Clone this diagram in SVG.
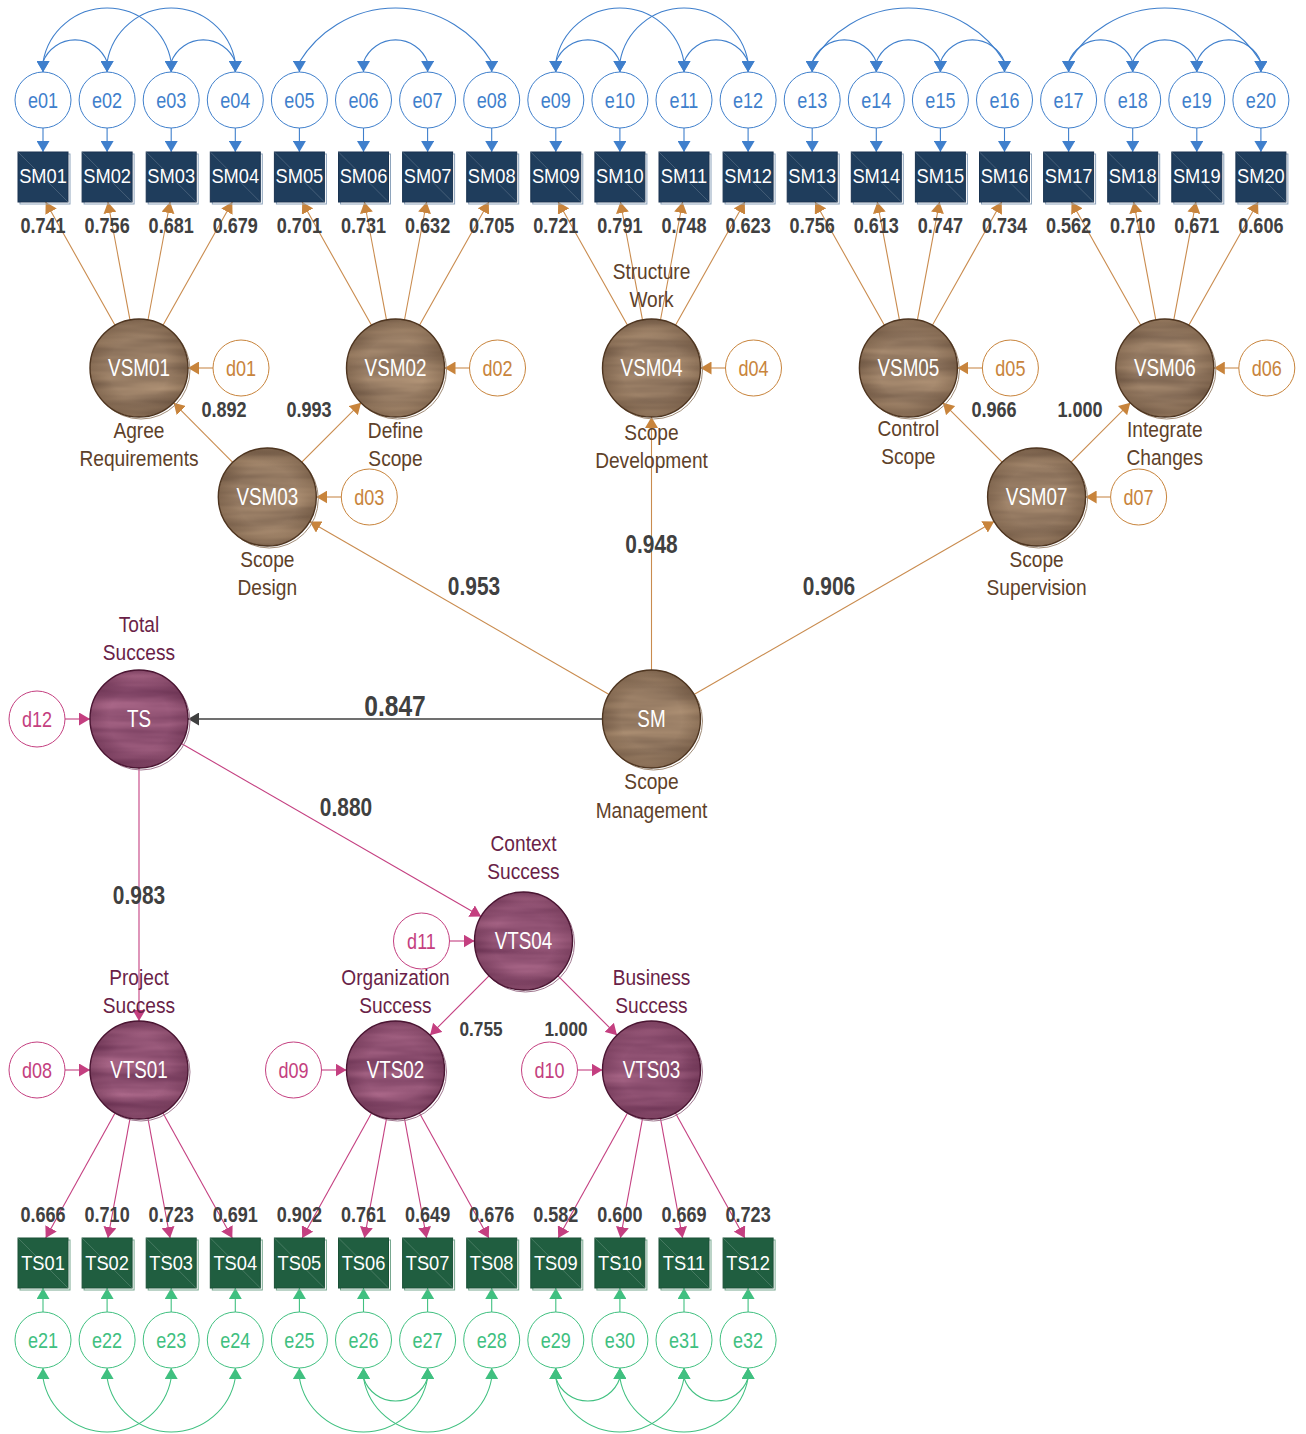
<svg xmlns="http://www.w3.org/2000/svg" width="1306" height="1434" viewBox="0 0 1306 1434">
<style>
text{font-family:"Liberation Sans",Arial,sans-serif;text-anchor:middle;transform-box:fill-box;transform-origin:50% 50%;transform:scaleX(0.82)}
.bt{fill:#fff;font-size:21px;transform:scaleX(0.87)}
.nt{fill:#fff;font-size:23px}
.lbB{fill:#5e4129;font-size:22px;transform:scaleX(0.87)}
.lbP{fill:#6a1f48;font-size:22px;transform:scaleX(0.87)}
.val{fill:#404040;font-size:22px;font-weight:bold}
.valL{fill:#404040;font-size:25.5px;font-weight:bold}
.eB{fill:#fff;stroke:#3f7fcc;stroke-width:1}
.eBt{fill:#3f7fcc;font-size:22px}
.eG{fill:#fff;stroke:#40c080;stroke-width:1}
.eGt{fill:#40c080;font-size:22px}
.dB{fill:#fff;stroke:#c8843c;stroke-width:1}
.dBt{fill:#c8843c;font-size:22px}
.dP{fill:#fff;stroke:#c43f80;stroke-width:1}
.dPt{fill:#c43f80;font-size:22px}
.bxN{fill:#1f3d5c;stroke:#1a3350;stroke-width:1}
.shN{fill:none;stroke:#8ea4bc;stroke-width:1}
.bxG{fill:#205e40;stroke:#1a5036;stroke-width:1}
.shG{fill:none;stroke:#78a890;stroke-width:1}
.dg{stroke:#ffffff;stroke-opacity:0.22;stroke-width:0.8}
.rimB{fill:none;stroke:#a08c78;stroke-width:1}
.rimP{fill:none;stroke:#a07890;stroke-width:1}
.olB{fill:url(#vigB);stroke:#4e3520;stroke-width:1.4}
.olP{fill:url(#vigP);stroke:#4a1532;stroke-width:1.4}
.cB{fill:none;stroke:#3f7fcc;stroke-width:1.1}
.cBr{fill:none;stroke:#c98b4e;stroke-width:1.1}
.cP{fill:none;stroke:#c43f80;stroke-width:1.1}
.cG{fill:none;stroke:#40c080;stroke-width:1.1}
.cK{fill:none;stroke:#404040;stroke-width:1.3}
</style>
<defs>
<marker id="mB" viewBox="0 0 11 13" refX="11" refY="6.5" markerWidth="11" markerHeight="13" markerUnits="userSpaceOnUse" orient="auto"><path d="M0,0L11,6.5L0,13z" fill="#3f7fcc"/></marker>
<marker id="mBd" viewBox="0 0 11 13" refX="11" refY="6.5" markerWidth="11" markerHeight="13" markerUnits="userSpaceOnUse" orient="90"><path d="M0,0L11,6.5L0,13z" fill="#3f7fcc"/></marker>
<marker id="mBr" viewBox="0 0 11 13" refX="11" refY="6.5" markerWidth="11" markerHeight="13" markerUnits="userSpaceOnUse" orient="auto"><path d="M0,0L11,6.5L0,13z" fill="#c8843c"/></marker>
<marker id="mP" viewBox="0 0 11 13" refX="11" refY="6.5" markerWidth="11" markerHeight="13" markerUnits="userSpaceOnUse" orient="auto"><path d="M0,0L11,6.5L0,13z" fill="#c43f80"/></marker>
<marker id="mG" viewBox="0 0 11 13" refX="11" refY="6.5" markerWidth="11" markerHeight="13" markerUnits="userSpaceOnUse" orient="auto"><path d="M0,0L11,6.5L0,13z" fill="#40c080"/></marker>
<marker id="mGu" viewBox="0 0 11 13" refX="11" refY="6.5" markerWidth="11" markerHeight="13" markerUnits="userSpaceOnUse" orient="270"><path d="M0,0L11,6.5L0,13z" fill="#40c080"/></marker>
<marker id="mK" viewBox="0 0 11 13" refX="11" refY="6.5" markerWidth="11" markerHeight="13" markerUnits="userSpaceOnUse" orient="auto"><path d="M0,0L11,6.5L0,13z" fill="#404040"/></marker>
<!-- streaky wood-like fills for the latent variables -->
<filter id="woodB" x="0" y="0" width="1" height="1" color-interpolation-filters="sRGB">
<feTurbulence type="fractalNoise" baseFrequency="0.008 0.07" numOctaves="3" seed="7"/>
<feColorMatrix type="matrix" values="0.28 0 0 0 0.45  0.25 0 0 0 0.36  0.2 0 0 0 0.29  0 0 0 0 1"/>
<feComposite in2="SourceAlpha" operator="in"/>
</filter>
<filter id="woodP" x="0" y="0" width="1" height="1" color-interpolation-filters="sRGB">
<feTurbulence type="fractalNoise" baseFrequency="0.008 0.07" numOctaves="3" seed="11"/>
<feColorMatrix type="matrix" values="0.3 0 0 0 0.42  0.25 0 0 0 0.2  0.25 0 0 0 0.33  0 0 0 0 1"/>
<feComposite in2="SourceAlpha" operator="in"/>
</filter>
<radialGradient id="vigB"><stop offset="0.62" stop-color="#3c2410" stop-opacity="0"/><stop offset="1" stop-color="#3c2410" stop-opacity="0.22"/></radialGradient>
<radialGradient id="vigP"><stop offset="0.62" stop-color="#3a0a24" stop-opacity="0"/><stop offset="1" stop-color="#3a0a24" stop-opacity="0.22"/></radialGradient>
</defs>

<!-- connectors -->
<g id="connectors">
<!-- error covariances, top -->
<g class="cB" marker-start="url(#mBd)" marker-end="url(#mBd)">
<path d="M43,72L43,62A65.05,65.05 0 0 1 171.2,62L171.2,72"/>
<path d="M107.1,72L107.1,62A65.05,65.05 0 0 1 235.3,62L235.3,72"/>
<path d="M43,72L43,62A34.3,34.3 0 0 1 107.1,62L107.1,72"/>
<path d="M171.2,72L171.2,62A34.3,34.3 0 0 1 235.3,62L235.3,72"/>
<path d="M299.4,72L299.4,62A112.6,112.6 0 0 1 491.7,62L491.7,72"/>
<path d="M363.5,72L363.5,62A34.3,34.3 0 0 1 427.6,62L427.6,72"/>
<path d="M555.8,72L555.8,62A65.05,65.05 0 0 1 684,62L684,72"/>
<path d="M619.9,72L619.9,62A65.05,65.05 0 0 1 748.1,62L748.1,72"/>
<path d="M555.8,72L555.8,62A34.3,34.3 0 0 1 619.9,62L619.9,72"/>
<path d="M684,72L684,62A34.3,34.3 0 0 1 748.1,62L748.1,72"/>
<path d="M812.2,72L812.2,62A112.6,112.6 0 0 1 1004.5,62L1004.5,72"/>
<path d="M812.2,72L812.2,62A34.3,34.3 0 0 1 876.3,62L876.3,72"/>
<path d="M876.3,72L876.3,62A34.3,34.3 0 0 1 940.4,62L940.4,72"/>
<path d="M940.4,72L940.4,62A34.3,34.3 0 0 1 1004.5,62L1004.5,72"/>
<path d="M1068.6,72L1068.6,62A112.6,112.6 0 0 1 1260.9,62L1260.9,72"/>
<path d="M1068.6,72L1068.6,62A34.3,34.3 0 0 1 1132.7,62L1132.7,72"/>
<path d="M1132.7,72L1132.7,62A34.3,34.3 0 0 1 1196.8,62L1196.8,72"/>
<path d="M1196.8,72L1196.8,62A34.3,34.3 0 0 1 1260.9,62L1260.9,72"/>
</g>
<!-- error to indicator, top -->
<g class="cB" marker-end="url(#mB)">
<path d="M43,128V152"/><path d="M107.1,128V152"/><path d="M171.2,128V152"/><path d="M235.3,128V152"/>
<path d="M299.4,128V152"/><path d="M363.5,128V152"/><path d="M427.6,128V152"/><path d="M491.7,128V152"/>
<path d="M555.8,128V152"/><path d="M619.9,128V152"/><path d="M684,128V152"/><path d="M748.1,128V152"/>
<path d="M812.2,128V152"/><path d="M876.3,128V152"/><path d="M940.4,128V152"/><path d="M1004.5,128V152"/>
<path d="M1068.6,128V152"/><path d="M1132.7,128V152"/><path d="M1196.8,128V152"/><path d="M1260.9,128V152"/>
</g>
<!-- loadings, scope management -->
<g class="cBr" marker-end="url(#mBr)">
<path d="M115,325.3L45.7,202"/><path d="M130,319.8L107.9,202"/><path d="M148,319.8L170.1,202"/><path d="M163,325.3L232.3,202"/>
<path d="M371.5,325.3L302.2,202"/><path d="M386.5,319.8L364.4,202"/><path d="M404.5,319.8L426.6,202"/><path d="M419.5,325.3L488.8,202"/>
<path d="M627.5,325.3L558.2,202"/><path d="M642.5,319.8L620.4,202"/><path d="M660.5,319.8L682.6,202"/><path d="M675.5,325.3L744.8,202"/>
<path d="M884.4,325.3L815.1,202"/><path d="M899.4,319.8L877.3,202"/><path d="M917.4,319.8L939.5,202"/><path d="M932.4,325.3L1001.7,202"/>
<path d="M1140.8,325.3L1071.5,202"/><path d="M1155.8,319.8L1133.7,202"/><path d="M1173.8,319.8L1195.9,202"/><path d="M1188.8,325.3L1258.1,202"/>
<!-- structural paths -->
<path d="M232.7,462.3L173.6,402.8"/>
<path d="M301.8,462.2L361,402.8"/>
<path d="M1002.1,462.2L942.9,402.8"/>
<path d="M1071.1,462.2L1130.3,402.8"/>
<path d="M609.1,694.5L309.7,521.5"/>
<path d="M694,694.5L994.1,521.5"/>
<path d="M651.5,670V417"/>
<!-- disturbances -->
<path d="M213,368H188"/><path d="M469.5,368H444.5"/><path d="M725.5,368H700.5"/><path d="M982.4,368H957.4"/><path d="M1238.8,368H1213.8"/>
<path d="M341.3,497H316.3"/><path d="M1110.6,497H1085.6"/>
</g>
<path class="cK" d="M602.5,719H188" marker-end="url(#mK)"/>
<g class="cP" marker-end="url(#mP)">
<path d="M139,768V1021"/>
<path d="M181.4,743.5L481.1,916.5"/>
<path d="M489,975.8L430,1035.2"/>
<path d="M558,975.8L617,1035.2"/>
<path d="M65,719H90"/><path d="M449.5,941H474.5"/><path d="M65,1070H90"/><path d="M321.5,1070H346.5"/><path d="M577.5,1070H602.5"/>
<path d="M115.2,1112.8L45.7,1238"/><path d="M130.1,1118.2L107.9,1238"/><path d="M147.9,1118.2L170.1,1238"/><path d="M162.8,1112.8L232.3,1238"/>
<path d="M371.7,1112.8L302.2,1238"/><path d="M386.6,1118.2L364.4,1238"/><path d="M404.4,1118.2L426.6,1238"/><path d="M419.3,1112.8L488.8,1238"/>
<path d="M627.7,1112.8L558.2,1238"/><path d="M642.6,1118.2L620.4,1238"/><path d="M660.4,1118.2L682.6,1238"/><path d="M675.3,1112.8L744.8,1238"/>
</g>
<!-- error to indicator, bottom -->
<g class="cG" marker-end="url(#mG)">
<path d="M43,1312V1288"/><path d="M107.1,1312V1288"/><path d="M171.2,1312V1288"/><path d="M235.3,1312V1288"/>
<path d="M299.4,1312V1288"/><path d="M363.5,1312V1288"/><path d="M427.6,1312V1288"/><path d="M491.7,1312V1288"/>
<path d="M555.8,1312V1288"/><path d="M619.9,1312V1288"/><path d="M684,1312V1288"/><path d="M748.1,1312V1288"/>
</g>
<!-- error covariances, bottom -->
<g class="cG" marker-start="url(#mGu)" marker-end="url(#mGu)">
<path d="M43,1368L43,1378A65.05,65.05 0 0 0 171.2,1378L171.2,1368"/>
<path d="M107.1,1368L107.1,1378A65.05,65.05 0 0 0 235.3,1378L235.3,1368"/>
<path d="M299.4,1368L299.4,1378A65.05,65.05 0 0 0 427.6,1378L427.6,1368"/>
<path d="M363.5,1368L363.5,1378A65.05,65.05 0 0 0 491.7,1378L491.7,1368"/>
<path d="M363.5,1368L363.5,1378A33.8,33.8 0 0 0 427.6,1378L427.6,1368"/>
<path d="M555.8,1368L555.8,1378A33.8,33.8 0 0 0 619.9,1378L619.9,1368"/>
<path d="M555.8,1368L555.8,1378A65.05,65.05 0 0 0 684,1378L684,1368"/>
<path d="M619.9,1368L619.9,1378A65.05,65.05 0 0 0 748.1,1378L748.1,1368"/>
<path d="M684,1368L684,1378A33.8,33.8 0 0 0 748.1,1378L748.1,1368"/>
</g>
</g>

<!-- path coefficients -->
<g id="coefficients">
<text class="val" x="43" y="233">0.741</text><text class="val" x="107.1" y="233">0.756</text><text class="val" x="171.2" y="233">0.681</text><text class="val" x="235.3" y="233">0.679</text>
<text class="val" x="299.4" y="233">0.701</text><text class="val" x="363.5" y="233">0.731</text><text class="val" x="427.6" y="233">0.632</text><text class="val" x="491.7" y="233">0.705</text>
<text class="val" x="555.8" y="233">0.721</text><text class="val" x="619.9" y="233">0.791</text><text class="val" x="684" y="233">0.748</text><text class="val" x="748.1" y="233">0.623</text>
<text class="val" x="812.2" y="233">0.756</text><text class="val" x="876.3" y="233">0.613</text><text class="val" x="940.4" y="233">0.747</text><text class="val" x="1004.5" y="233">0.734</text>
<text class="val" x="1068.6" y="233">0.562</text><text class="val" x="1132.7" y="233">0.710</text><text class="val" x="1196.8" y="233">0.671</text><text class="val" x="1260.9" y="233">0.606</text>
<text class="val" x="224" y="417.5">0.892</text><text class="val" x="309" y="417.5">0.993</text>
<text class="val" x="994" y="417.5">0.966</text><text class="val" x="1080" y="417.5">1.000</text>
<text class="valL" x="651.5" y="553">0.948</text>
<text class="valL" x="474" y="595">0.953</text>
<text class="valL" x="829" y="595">0.906</text>
<text class="valL" x="395" y="716.5" style="font-size:30px">0.847</text>
<text class="valL" x="346" y="816.5">0.880</text>
<text class="valL" x="139" y="904">0.983</text>
<text class="val" x="481" y="1036.5" style="font-size:21px">0.755</text>
<text class="val" x="566" y="1036.5" style="font-size:21px">1.000</text>
<text class="val" x="43" y="1222">0.666</text><text class="val" x="107.1" y="1222">0.710</text><text class="val" x="171.2" y="1222">0.723</text><text class="val" x="235.3" y="1222">0.691</text>
<text class="val" x="299.4" y="1222">0.902</text><text class="val" x="363.5" y="1222">0.761</text><text class="val" x="427.6" y="1222">0.649</text><text class="val" x="491.7" y="1222">0.676</text>
<text class="val" x="555.8" y="1222">0.582</text><text class="val" x="619.9" y="1222">0.600</text><text class="val" x="684" y="1222">0.669</text><text class="val" x="748.1" y="1222">0.723</text>
</g>

<!-- measurement errors, top -->
<g id="e01"><circle class="eB" cx="43" cy="100" r="28"/><text class="eBt" x="43" y="108">e01</text></g>
<g id="e02"><circle class="eB" cx="107.1" cy="100" r="28"/><text class="eBt" x="107.1" y="108">e02</text></g>
<g id="e03"><circle class="eB" cx="171.2" cy="100" r="28"/><text class="eBt" x="171.2" y="108">e03</text></g>
<g id="e04"><circle class="eB" cx="235.3" cy="100" r="28"/><text class="eBt" x="235.3" y="108">e04</text></g>
<g id="e05"><circle class="eB" cx="299.4" cy="100" r="28"/><text class="eBt" x="299.4" y="108">e05</text></g>
<g id="e06"><circle class="eB" cx="363.5" cy="100" r="28"/><text class="eBt" x="363.5" y="108">e06</text></g>
<g id="e07"><circle class="eB" cx="427.6" cy="100" r="28"/><text class="eBt" x="427.6" y="108">e07</text></g>
<g id="e08"><circle class="eB" cx="491.7" cy="100" r="28"/><text class="eBt" x="491.7" y="108">e08</text></g>
<g id="e09"><circle class="eB" cx="555.8" cy="100" r="28"/><text class="eBt" x="555.8" y="108">e09</text></g>
<g id="e10"><circle class="eB" cx="619.9" cy="100" r="28"/><text class="eBt" x="619.9" y="108">e10</text></g>
<g id="e11"><circle class="eB" cx="684" cy="100" r="28"/><text class="eBt" x="684" y="108">e11</text></g>
<g id="e12"><circle class="eB" cx="748.1" cy="100" r="28"/><text class="eBt" x="748.1" y="108">e12</text></g>
<g id="e13"><circle class="eB" cx="812.2" cy="100" r="28"/><text class="eBt" x="812.2" y="108">e13</text></g>
<g id="e14"><circle class="eB" cx="876.3" cy="100" r="28"/><text class="eBt" x="876.3" y="108">e14</text></g>
<g id="e15"><circle class="eB" cx="940.4" cy="100" r="28"/><text class="eBt" x="940.4" y="108">e15</text></g>
<g id="e16"><circle class="eB" cx="1004.5" cy="100" r="28"/><text class="eBt" x="1004.5" y="108">e16</text></g>
<g id="e17"><circle class="eB" cx="1068.6" cy="100" r="28"/><text class="eBt" x="1068.6" y="108">e17</text></g>
<g id="e18"><circle class="eB" cx="1132.7" cy="100" r="28"/><text class="eBt" x="1132.7" y="108">e18</text></g>
<g id="e19"><circle class="eB" cx="1196.8" cy="100" r="28"/><text class="eBt" x="1196.8" y="108">e19</text></g>
<g id="e20"><circle class="eB" cx="1260.9" cy="100" r="28"/><text class="eBt" x="1260.9" y="108">e20</text></g>

<!-- scope management indicators -->
<g id="SM01"><rect class="shN" x="20" y="154" width="50" height="50"/><rect class="bxN" x="18" y="152" width="50" height="50"/><line class="dg" x1="18" y1="152" x2="68" y2="202"/><text class="bt" x="43" y="183.5">SM01</text></g>
<g id="SM02"><rect class="shN" x="84.1" y="154" width="50" height="50"/><rect class="bxN" x="82.1" y="152" width="50" height="50"/><line class="dg" x1="82.1" y1="152" x2="132.1" y2="202"/><text class="bt" x="107.1" y="183.5">SM02</text></g>
<g id="SM03"><rect class="shN" x="148.2" y="154" width="50" height="50"/><rect class="bxN" x="146.2" y="152" width="50" height="50"/><line class="dg" x1="146.2" y1="152" x2="196.2" y2="202"/><text class="bt" x="171.2" y="183.5">SM03</text></g>
<g id="SM04"><rect class="shN" x="212.3" y="154" width="50" height="50"/><rect class="bxN" x="210.3" y="152" width="50" height="50"/><line class="dg" x1="210.3" y1="152" x2="260.3" y2="202"/><text class="bt" x="235.3" y="183.5">SM04</text></g>
<g id="SM05"><rect class="shN" x="276.4" y="154" width="50" height="50"/><rect class="bxN" x="274.4" y="152" width="50" height="50"/><line class="dg" x1="274.4" y1="152" x2="324.4" y2="202"/><text class="bt" x="299.4" y="183.5">SM05</text></g>
<g id="SM06"><rect class="shN" x="340.5" y="154" width="50" height="50"/><rect class="bxN" x="338.5" y="152" width="50" height="50"/><line class="dg" x1="338.5" y1="152" x2="388.5" y2="202"/><text class="bt" x="363.5" y="183.5">SM06</text></g>
<g id="SM07"><rect class="shN" x="404.6" y="154" width="50" height="50"/><rect class="bxN" x="402.6" y="152" width="50" height="50"/><line class="dg" x1="402.6" y1="152" x2="452.6" y2="202"/><text class="bt" x="427.6" y="183.5">SM07</text></g>
<g id="SM08"><rect class="shN" x="468.7" y="154" width="50" height="50"/><rect class="bxN" x="466.7" y="152" width="50" height="50"/><line class="dg" x1="466.7" y1="152" x2="516.7" y2="202"/><text class="bt" x="491.7" y="183.5">SM08</text></g>
<g id="SM09"><rect class="shN" x="532.8" y="154" width="50" height="50"/><rect class="bxN" x="530.8" y="152" width="50" height="50"/><line class="dg" x1="530.8" y1="152" x2="580.8" y2="202"/><text class="bt" x="555.8" y="183.5">SM09</text></g>
<g id="SM10"><rect class="shN" x="596.9" y="154" width="50" height="50"/><rect class="bxN" x="594.9" y="152" width="50" height="50"/><line class="dg" x1="594.9" y1="152" x2="644.9" y2="202"/><text class="bt" x="619.9" y="183.5">SM10</text></g>
<g id="SM11"><rect class="shN" x="661" y="154" width="50" height="50"/><rect class="bxN" x="659" y="152" width="50" height="50"/><line class="dg" x1="659" y1="152" x2="709" y2="202"/><text class="bt" x="684" y="183.5">SM11</text></g>
<g id="SM12"><rect class="shN" x="725.1" y="154" width="50" height="50"/><rect class="bxN" x="723.1" y="152" width="50" height="50"/><line class="dg" x1="723.1" y1="152" x2="773.1" y2="202"/><text class="bt" x="748.1" y="183.5">SM12</text></g>
<g id="SM13"><rect class="shN" x="789.2" y="154" width="50" height="50"/><rect class="bxN" x="787.2" y="152" width="50" height="50"/><line class="dg" x1="787.2" y1="152" x2="837.2" y2="202"/><text class="bt" x="812.2" y="183.5">SM13</text></g>
<g id="SM14"><rect class="shN" x="853.3" y="154" width="50" height="50"/><rect class="bxN" x="851.3" y="152" width="50" height="50"/><line class="dg" x1="851.3" y1="152" x2="901.3" y2="202"/><text class="bt" x="876.3" y="183.5">SM14</text></g>
<g id="SM15"><rect class="shN" x="917.4" y="154" width="50" height="50"/><rect class="bxN" x="915.4" y="152" width="50" height="50"/><line class="dg" x1="915.4" y1="152" x2="965.4" y2="202"/><text class="bt" x="940.4" y="183.5">SM15</text></g>
<g id="SM16"><rect class="shN" x="981.5" y="154" width="50" height="50"/><rect class="bxN" x="979.5" y="152" width="50" height="50"/><line class="dg" x1="979.5" y1="152" x2="1029.5" y2="202"/><text class="bt" x="1004.5" y="183.5">SM16</text></g>
<g id="SM17"><rect class="shN" x="1045.6" y="154" width="50" height="50"/><rect class="bxN" x="1043.6" y="152" width="50" height="50"/><line class="dg" x1="1043.6" y1="152" x2="1093.6" y2="202"/><text class="bt" x="1068.6" y="183.5">SM17</text></g>
<g id="SM18"><rect class="shN" x="1109.7" y="154" width="50" height="50"/><rect class="bxN" x="1107.7" y="152" width="50" height="50"/><line class="dg" x1="1107.7" y1="152" x2="1157.7" y2="202"/><text class="bt" x="1132.7" y="183.5">SM18</text></g>
<g id="SM19"><rect class="shN" x="1173.8" y="154" width="50" height="50"/><rect class="bxN" x="1171.8" y="152" width="50" height="50"/><line class="dg" x1="1171.8" y1="152" x2="1221.8" y2="202"/><text class="bt" x="1196.8" y="183.5">SM19</text></g>
<g id="SM20"><rect class="shN" x="1237.9" y="154" width="50" height="50"/><rect class="bxN" x="1235.9" y="152" width="50" height="50"/><line class="dg" x1="1235.9" y1="152" x2="1285.9" y2="202"/><text class="bt" x="1260.9" y="183.5">SM20</text></g>

<!-- scope management latent variables -->
<g id="VSM01"><circle class="rimB" cx="141" cy="370" r="49"/><circle cx="139" cy="368" r="49" fill="#8c7059" filter="url(#woodB)"/><circle class="olB" cx="139" cy="368" r="49"/><text class="nt" x="139" y="376.5">VSM01</text><text class="lbB" x="139" y="438">Agree</text><text class="lbB" x="139" y="466.5">Requirements</text></g>
<g id="VSM02"><circle class="rimB" cx="397.5" cy="370" r="49"/><circle cx="395.5" cy="368" r="49" fill="#8c7059" filter="url(#woodB)"/><circle class="olB" cx="395.5" cy="368" r="49"/><text class="nt" x="395.5" y="376.5">VSM02</text><text class="lbB" x="395.5" y="438">Define</text><text class="lbB" x="395.5" y="466.5">Scope</text></g>
<g id="VSM04"><circle class="rimB" cx="653.5" cy="370" r="49"/><circle cx="651.5" cy="368" r="49" fill="#8c7059" filter="url(#woodB)"/><circle class="olB" cx="651.5" cy="368" r="49"/><text class="nt" x="651.5" y="376.5">VSM04</text><text class="lbB" x="651.5" y="279">Structure</text><text class="lbB" x="651.5" y="307">Work</text><text class="lbB" x="651.5" y="440">Scope</text><text class="lbB" x="651.5" y="468">Development</text></g>
<g id="VSM05"><circle class="rimB" cx="910.4" cy="370" r="49"/><circle cx="908.4" cy="368" r="49" fill="#8c7059" filter="url(#woodB)"/><circle class="olB" cx="908.4" cy="368" r="49"/><text class="nt" x="908.4" y="376.5">VSM05</text><text class="lbB" x="908.4" y="436">Control</text><text class="lbB" x="908.4" y="464">Scope</text></g>
<g id="VSM06"><circle class="rimB" cx="1166.8" cy="370" r="49"/><circle cx="1164.8" cy="368" r="49" fill="#8c7059" filter="url(#woodB)"/><circle class="olB" cx="1164.8" cy="368" r="49"/><text class="nt" x="1164.8" y="376.5">VSM06</text><text class="lbB" x="1164.8" y="437">Integrate</text><text class="lbB" x="1164.8" y="465">Changes</text></g>
<g id="VSM03"><circle class="rimB" cx="269.3" cy="499" r="49"/><circle cx="267.3" cy="497" r="49" fill="#8c7059" filter="url(#woodB)"/><circle class="olB" cx="267.3" cy="497" r="49"/><text class="nt" x="267.3" y="505.5">VSM03</text><text class="lbB" x="267.3" y="567">Scope</text><text class="lbB" x="267.3" y="595">Design</text></g>
<g id="VSM07"><circle class="rimB" cx="1038.6" cy="499" r="49"/><circle cx="1036.6" cy="497" r="49" fill="#8c7059" filter="url(#woodB)"/><circle class="olB" cx="1036.6" cy="497" r="49"/><text class="nt" x="1036.6" y="505.5">VSM07</text><text class="lbB" x="1036.6" y="567">Scope</text><text class="lbB" x="1036.6" y="595">Supervision</text></g>
<g id="SM"><circle class="rimB" cx="653.5" cy="721" r="49"/><circle cx="651.5" cy="719" r="49" fill="#8c7059" filter="url(#woodB)"/><circle class="olB" cx="651.5" cy="719" r="49"/><text class="nt" x="651.5" y="727.5">SM</text><text class="lbB" x="651.5" y="789">Scope</text><text class="lbB" x="651.5" y="818">Management</text></g>

<!-- disturbances, scope management -->
<g id="d01"><circle class="dB" cx="241" cy="368" r="28"/><text class="dBt" x="241" y="376">d01</text></g>
<g id="d02"><circle class="dB" cx="497.5" cy="368" r="28"/><text class="dBt" x="497.5" y="376">d02</text></g>
<g id="d04"><circle class="dB" cx="753.5" cy="368" r="28"/><text class="dBt" x="753.5" y="376">d04</text></g>
<g id="d05"><circle class="dB" cx="1010.4" cy="368" r="28"/><text class="dBt" x="1010.4" y="376">d05</text></g>
<g id="d06"><circle class="dB" cx="1266.8" cy="368" r="28"/><text class="dBt" x="1266.8" y="376">d06</text></g>
<g id="d03"><circle class="dB" cx="369.3" cy="497" r="28"/><text class="dBt" x="369.3" y="505">d03</text></g>
<g id="d07"><circle class="dB" cx="1138.6" cy="497" r="28"/><text class="dBt" x="1138.6" y="505">d07</text></g>

<!-- success latent variables -->
<g id="TS"><circle class="rimP" cx="141" cy="721" r="49"/><circle cx="139" cy="719" r="49" fill="#7d3d5c" filter="url(#woodP)"/><circle class="olP" cx="139" cy="719" r="49"/><text class="nt" x="139" y="727.5">TS</text><text class="lbP" x="139" y="632">Total</text><text class="lbP" x="139" y="660">Success</text></g>
<g id="VTS04"><circle class="rimP" cx="525.5" cy="943" r="49"/><circle cx="523.5" cy="941" r="49" fill="#7d3d5c" filter="url(#woodP)"/><circle class="olP" cx="523.5" cy="941" r="49"/><text class="nt" x="523.5" y="949.5">VTS04</text><text class="lbP" x="523.5" y="851">Context</text><text class="lbP" x="523.5" y="879">Success</text></g>
<g id="VTS01"><circle class="rimP" cx="141" cy="1072" r="49"/><circle cx="139" cy="1070" r="49" fill="#7d3d5c" filter="url(#woodP)"/><circle class="olP" cx="139" cy="1070" r="49"/><text class="nt" x="139" y="1078.5">VTS01</text><text class="lbP" x="139" y="985">Project</text><text class="lbP" x="139" y="1013">Success</text></g>
<g id="VTS02"><circle class="rimP" cx="397.5" cy="1072" r="49"/><circle cx="395.5" cy="1070" r="49" fill="#7d3d5c" filter="url(#woodP)"/><circle class="olP" cx="395.5" cy="1070" r="49"/><text class="nt" x="395.5" y="1078.5">VTS02</text><text class="lbP" x="395.5" y="985">Organization</text><text class="lbP" x="395.5" y="1013">Success</text></g>
<g id="VTS03"><circle class="rimP" cx="653.5" cy="1072" r="49"/><circle cx="651.5" cy="1070" r="49" fill="#7d3d5c" filter="url(#woodP)"/><circle class="olP" cx="651.5" cy="1070" r="49"/><text class="nt" x="651.5" y="1078.5">VTS03</text><text class="lbP" x="651.5" y="985">Business</text><text class="lbP" x="651.5" y="1013">Success</text></g>

<!-- disturbances, success -->
<g id="d12"><circle class="dP" cx="37" cy="719" r="28"/><text class="dPt" x="37" y="727">d12</text></g>
<g id="d11"><circle class="dP" cx="421.5" cy="941" r="28"/><text class="dPt" x="421.5" y="949">d11</text></g>
<g id="d08"><circle class="dP" cx="37" cy="1070" r="28"/><text class="dPt" x="37" y="1078">d08</text></g>
<g id="d09"><circle class="dP" cx="293.5" cy="1070" r="28"/><text class="dPt" x="293.5" y="1078">d09</text></g>
<g id="d10"><circle class="dP" cx="549.5" cy="1070" r="28"/><text class="dPt" x="549.5" y="1078">d10</text></g>

<!-- success indicators -->
<g id="TS01"><rect class="shG" x="20" y="1240" width="50" height="50"/><rect class="bxG" x="18" y="1238" width="50" height="50"/><line class="dg" x1="18" y1="1238" x2="68" y2="1288"/><text class="bt" x="43" y="1270">TS01</text></g>
<g id="TS02"><rect class="shG" x="84.1" y="1240" width="50" height="50"/><rect class="bxG" x="82.1" y="1238" width="50" height="50"/><line class="dg" x1="82.1" y1="1238" x2="132.1" y2="1288"/><text class="bt" x="107.1" y="1270">TS02</text></g>
<g id="TS03"><rect class="shG" x="148.2" y="1240" width="50" height="50"/><rect class="bxG" x="146.2" y="1238" width="50" height="50"/><line class="dg" x1="146.2" y1="1238" x2="196.2" y2="1288"/><text class="bt" x="171.2" y="1270">TS03</text></g>
<g id="TS04"><rect class="shG" x="212.3" y="1240" width="50" height="50"/><rect class="bxG" x="210.3" y="1238" width="50" height="50"/><line class="dg" x1="210.3" y1="1238" x2="260.3" y2="1288"/><text class="bt" x="235.3" y="1270">TS04</text></g>
<g id="TS05"><rect class="shG" x="276.4" y="1240" width="50" height="50"/><rect class="bxG" x="274.4" y="1238" width="50" height="50"/><line class="dg" x1="274.4" y1="1238" x2="324.4" y2="1288"/><text class="bt" x="299.4" y="1270">TS05</text></g>
<g id="TS06"><rect class="shG" x="340.5" y="1240" width="50" height="50"/><rect class="bxG" x="338.5" y="1238" width="50" height="50"/><line class="dg" x1="338.5" y1="1238" x2="388.5" y2="1288"/><text class="bt" x="363.5" y="1270">TS06</text></g>
<g id="TS07"><rect class="shG" x="404.6" y="1240" width="50" height="50"/><rect class="bxG" x="402.6" y="1238" width="50" height="50"/><line class="dg" x1="402.6" y1="1238" x2="452.6" y2="1288"/><text class="bt" x="427.6" y="1270">TS07</text></g>
<g id="TS08"><rect class="shG" x="468.7" y="1240" width="50" height="50"/><rect class="bxG" x="466.7" y="1238" width="50" height="50"/><line class="dg" x1="466.7" y1="1238" x2="516.7" y2="1288"/><text class="bt" x="491.7" y="1270">TS08</text></g>
<g id="TS09"><rect class="shG" x="532.8" y="1240" width="50" height="50"/><rect class="bxG" x="530.8" y="1238" width="50" height="50"/><line class="dg" x1="530.8" y1="1238" x2="580.8" y2="1288"/><text class="bt" x="555.8" y="1270">TS09</text></g>
<g id="TS10"><rect class="shG" x="596.9" y="1240" width="50" height="50"/><rect class="bxG" x="594.9" y="1238" width="50" height="50"/><line class="dg" x1="594.9" y1="1238" x2="644.9" y2="1288"/><text class="bt" x="619.9" y="1270">TS10</text></g>
<g id="TS11"><rect class="shG" x="661" y="1240" width="50" height="50"/><rect class="bxG" x="659" y="1238" width="50" height="50"/><line class="dg" x1="659" y1="1238" x2="709" y2="1288"/><text class="bt" x="684" y="1270">TS11</text></g>
<g id="TS12"><rect class="shG" x="725.1" y="1240" width="50" height="50"/><rect class="bxG" x="723.1" y="1238" width="50" height="50"/><line class="dg" x1="723.1" y1="1238" x2="773.1" y2="1288"/><text class="bt" x="748.1" y="1270">TS12</text></g>

<!-- measurement errors, bottom -->
<g id="e21"><circle class="eG" cx="43" cy="1340" r="28"/><text class="eGt" x="43" y="1348">e21</text></g>
<g id="e22"><circle class="eG" cx="107.1" cy="1340" r="28"/><text class="eGt" x="107.1" y="1348">e22</text></g>
<g id="e23"><circle class="eG" cx="171.2" cy="1340" r="28"/><text class="eGt" x="171.2" y="1348">e23</text></g>
<g id="e24"><circle class="eG" cx="235.3" cy="1340" r="28"/><text class="eGt" x="235.3" y="1348">e24</text></g>
<g id="e25"><circle class="eG" cx="299.4" cy="1340" r="28"/><text class="eGt" x="299.4" y="1348">e25</text></g>
<g id="e26"><circle class="eG" cx="363.5" cy="1340" r="28"/><text class="eGt" x="363.5" y="1348">e26</text></g>
<g id="e27"><circle class="eG" cx="427.6" cy="1340" r="28"/><text class="eGt" x="427.6" y="1348">e27</text></g>
<g id="e28"><circle class="eG" cx="491.7" cy="1340" r="28"/><text class="eGt" x="491.7" y="1348">e28</text></g>
<g id="e29"><circle class="eG" cx="555.8" cy="1340" r="28"/><text class="eGt" x="555.8" y="1348">e29</text></g>
<g id="e30"><circle class="eG" cx="619.9" cy="1340" r="28"/><text class="eGt" x="619.9" y="1348">e30</text></g>
<g id="e31"><circle class="eG" cx="684" cy="1340" r="28"/><text class="eGt" x="684" y="1348">e31</text></g>
<g id="e32"><circle class="eG" cx="748.1" cy="1340" r="28"/><text class="eGt" x="748.1" y="1348">e32</text></g>
</svg>
